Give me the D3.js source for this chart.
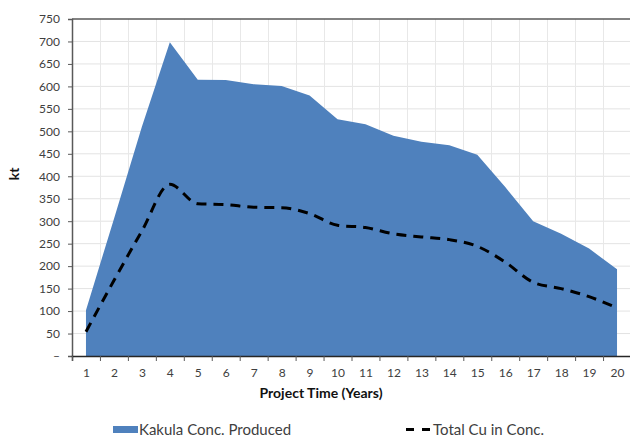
<!DOCTYPE html>
<html><head><meta charset="utf-8">
<script src="https://cdn.jsdelivr.net/npm/d3@7"></script>
<style>
html,body{margin:0;padding:0;background:#fff;}
svg{display:block;}
text{font-family:"Lato","Open Sans",sans-serif;}
</style></head>
<body><svg id="c" width="630" height="439"></svg>
<script>
const years = [1,2,3,4,5,6,7,8,9,10,11,12,13,14,15,16,17,18,19,20];
const concProduced = [102,305,510,698,615,614,605,601,580,527,516,490,477,469,448,376,300,272,239,193];
const totalCu = [54,168,278,382,339,337,331,330,317,291,286,272,265,259,244,209,164,150,132,107];
const yTicks = [0,50,100,150,200,250,300,350,400,450,500,550,600,650,700,750];
const seriesNames = ["Kakula Conc. Produced","Total Cu in Conc."];
const xTitle = "Project Time (Years)";
const yTitle = "kt";

const svg = d3.select("#c");
const L = 72, R = 631, T = 19, B = 356;
const x = d3.scaleLinear().domain([0.5, 20.5]).range([L, R]);
const y = d3.scaleLinear().domain([0, 750]).range([B, T]);

// gridlines
const g = svg.append("g");
g.selectAll(".hg").data(yTicks.slice(1, -1)).join("line")
  .attr("x1", L).attr("x2", 630).attr("y1", d => y(d)).attr("y2", d => y(d))
  .attr("stroke", "#e3e3e3").attr("stroke-width", 1);
const bounds = d3.range(1.5, 20.6, 1);
g.selectAll(".vg").data(bounds).join("line")
  .attr("x1", d => Math.round(x(d)) + 0.5).attr("x2", d => Math.round(x(d)) + 0.5)
  .attr("y1", T).attr("y2", B)
  .attr("stroke", "#e8e8e8").attr("stroke-width", 1);

// area
const area = d3.area().x((d, i) => x(years[i])).y0(y(0)).y1(d => y(d));
svg.append("path").datum(concProduced).attr("d", area).attr("fill", "#4f81bd");

// line
const line = d3.line().x((d, i) => x(years[i])).y(d => y(d)).curve(d3.curveMonotoneX);
svg.append("path").datum(totalCu).attr("d", line)
  .attr("fill", "none").attr("stroke", "#000").attr("stroke-width", 3)
  .attr("stroke-dasharray", "10,7");

// top border
svg.append("line").attr("x1", L).attr("x2", 630).attr("y1", T).attr("y2", T)
  .attr("stroke", "#595959").attr("stroke-width", 1.5);

// y axis
const yAxis = d3.axisLeft(y).tickValues(yTicks).tickSize(4).tickPadding(8)
  .tickFormat(d => d === 0 ? "–" : d);
const ya = svg.append("g").attr("transform", `translate(${L},0)`).call(yAxis);
ya.select(".domain").attr("stroke", "#595959").attr("stroke-width", 1.5);
ya.selectAll(".tick line").attr("stroke", "#595959");
ya.selectAll("text").attr("font-size", 12).attr("fill", "#404040")
  .style("font-family", "Lato, sans-serif");

// x axis ticks at boundaries
const xTickAxis = d3.axisBottom(x).tickValues(d3.range(0.5, 20.6, 1)).tickSize(5).tickFormat("");
const xa = svg.append("g").attr("transform", `translate(0,${B})`).call(xTickAxis);
xa.select(".domain").attr("stroke", "#262626").attr("stroke-width", 1.5);
xa.selectAll(".tick line").attr("stroke", "#595959");
// x labels
const xLab = d3.axisBottom(x).tickValues(years).tickSize(0).tickPadding(12).tickFormat(d => d);
const xl = svg.append("g").attr("transform", `translate(0,${B})`).call(xLab);
xl.select(".domain").remove();
xl.selectAll("text").attr("font-size", 12).attr("fill", "#404040");

// titles
svg.append("text").attr("x", 321).attr("y", 398).attr("text-anchor", "middle")
  .attr("font-size", 14).attr("font-weight", "bold").attr("fill", "#111").text(xTitle);
svg.append("text").attr("transform", "translate(19,174) rotate(-90)").attr("text-anchor", "middle")
  .attr("font-size", 14).attr("font-weight", "bold").attr("fill", "#111").text(yTitle);

// legend
svg.append("rect").attr("x", 113).attr("y", 426).attr("width", 25).attr("height", 7).attr("fill", "#4f81bd");
svg.append("text").attr("x", 139).attr("y", 434.5).attr("font-size", 15).attr("fill", "#404040").text(seriesNames[0]);
svg.append("line").attr("x1", 406).attr("x2", 431).attr("y1", 429.5).attr("y2", 429.5)
  .attr("stroke", "#000").attr("stroke-width", 3).attr("stroke-dasharray", "8,8");
svg.append("text").attr("x", 433).attr("y", 434.5).attr("font-size", 15).attr("fill", "#404040").text(seriesNames[1]);
</script></body></html>
